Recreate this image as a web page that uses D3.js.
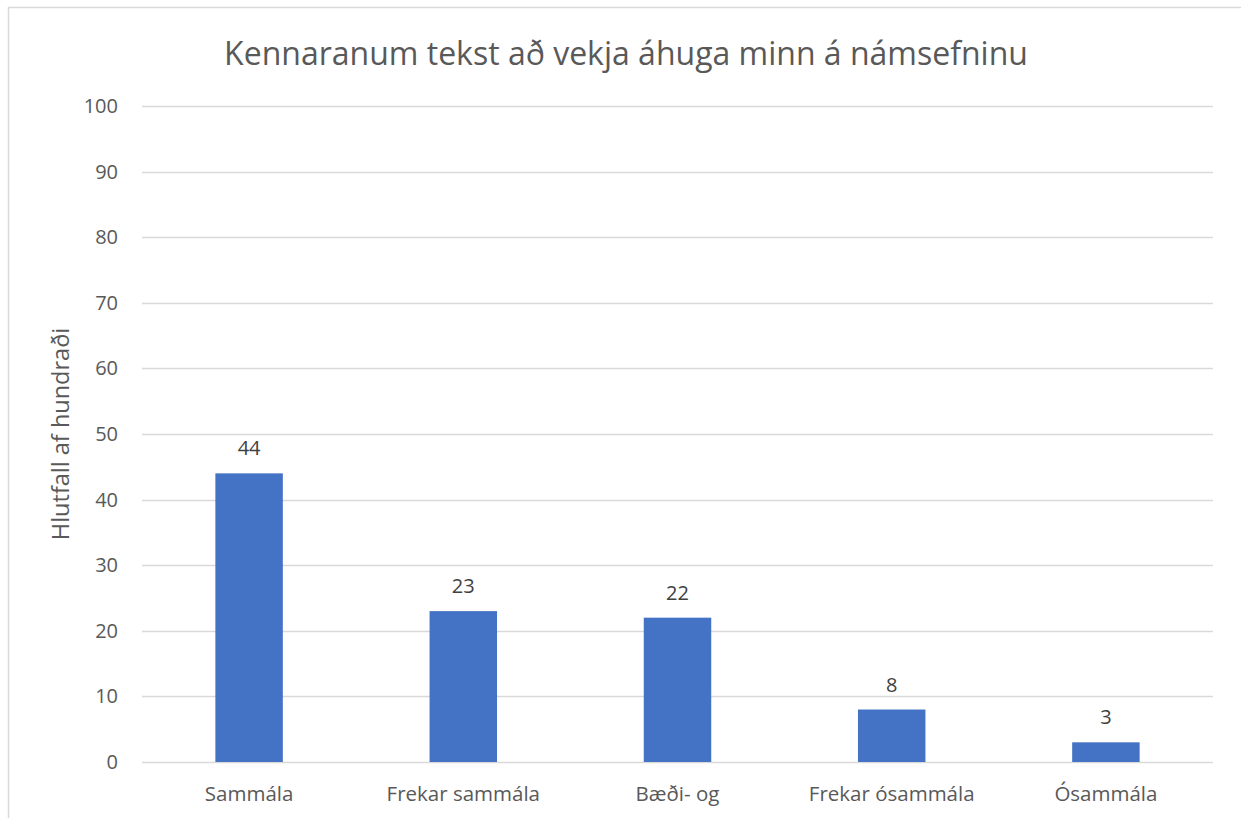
<!DOCTYPE html>
<html>
<head>
<meta charset="utf-8">
<script src="https://cdn.jsdelivr.net/npm/d3@7"></script>
<style>
  body { margin: 0; background: #fff; }
  text { font-family: "Open Sans", "Liberation Sans", sans-serif; }
</style>
</head>
<body>
<div id="chart"></div>
<script>
// data
const categories = ["Sammála", "Frekar sammála", "Bæði- og", "Frekar ósammála", "Ósammála"];
const values = [44, 23, 22, 8, 3];
const yTicks = [0, 10, 20, 30, 40, 50, 60, 70, 80, 90, 100];
const chartTitle = "Kennaranum tekst að vekja áhuga minn á námsefninu";
const yTitle = "Hlutfall af hundraði";

const W = 1241, H = 818;
const margin = {top: 106, right: 28, bottom: 56, left: 142};
const width = W - margin.left - margin.right,
      height = H - margin.top - margin.bottom;

const svg = d3.select("#chart")
  .append("svg")
  .attr("width", W)
  .attr("height", H);

// chart border
svg.append("rect")
  .attr("x", 8.5).attr("y", 7.5)
  .attr("width", W).attr("height", H)
  .attr("fill", "none")
  .attr("stroke", "#d9d9d9")
  .attr("stroke-width", 1.5);

const g = svg.append("g")
  .attr("transform", `translate(${margin.left}, ${margin.top})`);

const x = d3.scaleBand()
  .domain(categories)
  .range([0, width])
  .paddingInner(0.685)
  .paddingOuter(0.3425);

const y = d3.scaleLinear()
  .domain([0, 100])
  .range([height, 0]);

// gridlines
g.selectAll(".grid")
  .data(yTicks)
  .enter()
  .append("line")
  .attr("x1", 0).attr("x2", width)
  .attr("y1", d => Math.round(y(d)) + 0.5)
  .attr("y2", d => Math.round(y(d)) + 0.5)
  .attr("stroke", "#d9d9d9")
  .attr("stroke-width", 1.5);

// y axis labels
const yAxis = g.append("g")
  .call(d3.axisLeft(y).tickValues(yTicks).tickSize(0).tickPadding(24));
yAxis.select(".domain").remove();
yAxis.selectAll("text")
  .attr("fill", "#595959")
  .style("font-size", "20px");

// x axis labels
const xAxis = g.append("g")
  .attr("transform", `translate(0, ${height})`)
  .call(d3.axisBottom(x).tickSize(0).tickPadding(24));
xAxis.select(".domain").remove();
xAxis.selectAll("text")
  .attr("fill", "#595959")
  .style("font-size", "20.5px");

// bars
g.selectAll(".bar")
  .data(values)
  .enter()
  .append("rect")
  .attr("class", "bar")
  .attr("x", (d, i) => x(categories[i]))
  .attr("y", d => y(d))
  .attr("width", x.bandwidth())
  .attr("height", d => height - y(d))
  .attr("fill", "#4472c4");

// value labels
g.selectAll(".label")
  .data(values)
  .enter()
  .append("text")
  .attr("class", "label")
  .attr("x", (d, i) => x(categories[i]) + x.bandwidth() / 2)
  .attr("y", d => y(d) - 18)
  .attr("text-anchor", "middle")
  .attr("fill", "#404040")
  .style("font-size", "20px")
  .text(d => d);

// title
svg.append("text")
  .attr("x", 626)
  .attr("y", 65)
  .attr("text-anchor", "middle")
  .attr("fill", "#595959")
  .style("font-size", "32px")
  .text(chartTitle);

// y axis title
svg.append("text")
  .attr("transform", `translate(69, 434) rotate(-90)`)
  .attr("text-anchor", "middle")
  .attr("fill", "#595959")
  .style("font-size", "23.5px")
  .text(yTitle);
</script>
</body>
</html>
